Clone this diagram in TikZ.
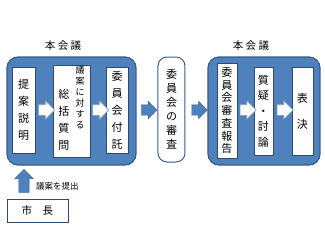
\documentclass[tikz,border=0pt]{standalone}
\usepackage{fontspec}
\setmainfont{Noto Sans CJK JP}
\usepackage{tikz}
\usetikzlibrary{shapes.arrows}
\definecolor{kaigiblue}{HTML}{4F81BD}
\definecolor{kaigiedge}{HTML}{385D8A}
\definecolor{boxedge}{HTML}{2E4A70}

\begin{document}
\begin{tikzpicture}[x=1pt, y=-1pt,
    session/.style={rectangle, rounded corners=11pt, draw=kaigiedge, fill=kaigiblue, line width=1.2pt, inner sep=0pt},
    committee/.style={rectangle, rounded corners=9pt, draw=kaigiedge, fill=white, line width=1pt, inner sep=0pt, align=center},
    stage/.style={rectangle, draw=boxedge, fill=white, line width=0.5pt, inner sep=0pt, align=center},
    title/.style={font=\fontsize{10.5}{12}\selectfont},
    flow/.style={single arrow, single arrow head extend=3.5pt, single arrow head indent=0pt, inner sep=5pt, minimum width=17pt, minimum height=15pt, fill=kaigiblue, draw=kaigiedge, line width=0.4pt},
    inflow/.style={single arrow, single arrow head extend=4pt, single arrow head indent=0pt, inner sep=5pt, minimum width=18pt, minimum height=14pt, fill=white, draw=kaigiedge!60, line width=0.6pt}
]
    \useasboundingbox (0,0) rectangle (325,244);

    % Sessions
    \node[session, minimum width=129pt, minimum height=108pt] (plenary1) at (71.5, 111) {};
    \node[session, minimum width=112pt, minimum height=108pt] (plenary2) at (264, 111) {};
    \node[title] (title1) at (63, 46) {本 会 議};
    \node[title] (title2) at (251, 46) {本 会 議};

    % Stages of the first plenary
    \node[stage, minimum width=23pt, minimum height=86pt, font=\fontsize{11}{17}\selectfont] (teian) at (23.5, 110) {提\\案\\説\\明};
    \node[stage, minimum width=37pt, minimum height=92pt] (shitsumon) at (71.5, 111) {};
    \node[align=center, inner sep=0pt, font=\fontsize{9}{11}\selectfont] (gian) at (80, 97.5) {議\\案\\に\\対\\す\\る};
    \node[align=center, inner sep=0pt, font=\fontsize{11}{17}\selectfont] (sokatsu) at (64, 120) {総\\括\\質\\問};
    \node[stage, minimum width=22pt, minimum height=86pt, font=\fontsize{11}{17}\selectfont] (futaku) at (117, 110) {委\\員\\会\\付\\託};

    % Committee
    \node[committee, minimum width=27pt, minimum height=105pt, font=\fontsize{11}{14}\selectfont] (shinsa) at (171.5, 109.5) {委\\員\\会\\の\\審\\査};

    % Stages of the second plenary
    \node[stage, minimum width=20pt, minimum height=95pt, font=\fontsize{11}{12.7}\selectfont] (houkoku) at (227, 110.5) {委\\員\\会\\審\\査\\報\\告};
    \node[stage, minimum width=19pt, minimum height=88pt, font=\fontsize{11}{15.5}\selectfont] (shitsugi) at (263.5, 111) {質\\疑\\・\\討\\論};
    \node[stage, minimum width=21pt, minimum height=88pt, font=\fontsize{11}{26}\selectfont] (hyouketsu) at (302.5, 111) {表\\決};

    % Arrows
    \node[inflow] (a1) at (44, 110) {};
    \node[inflow] (a2) at (98, 110) {};
    \node[flow] (a3) at (146.5, 110) {};
    \node[flow] (a4) at (197, 110) {};
    \node[inflow] (a5) at (245.5, 110) {};
    \node[inflow] (a6) at (282.5, 110) {};

    % Mayor
    \node[stage, minimum width=61pt, minimum height=23pt, font=\fontsize{10.5}{12}\selectfont] (shicho) at (37.5, 210.5) {市\quad 長};
    \node[flow, shape border rotate=90, minimum width=18pt, minimum height=23pt, single arrow head extend=4pt] (teishutsu) at (24, 183.5) {};
    \node[anchor=west, inner sep=0pt, font=\fontsize{8.5}{10}\selectfont] (gianlabel) at (36, 186) {議案を提出};
\end{tikzpicture}
\end{document}
